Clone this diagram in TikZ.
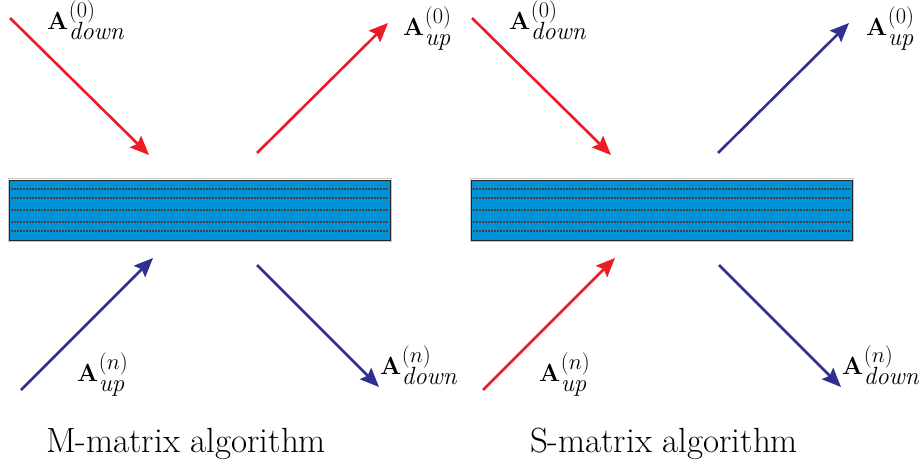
\documentclass[tikz,border=0pt]{standalone}
\usetikzlibrary{arrows.meta}
\usepackage{graphicx}
\definecolor{ared}{RGB}{237,28,36}
\definecolor{ablue}{RGB}{46,49,146}
\definecolor{slab}{RGB}{0,147,216}
\tikzset{
  arr/.style={line width=2.6pt,-{Stealth[length=19pt,width=16pt,inset=3pt]}},
  redarr/.style={arr,draw=ared},
  bluearr/.style={arr,draw=ablue},
  slabbox/.style={fill=slab,draw=black!85,line width=1.4pt},
  layer/.style={draw=black!75,line width=1.1pt,dash pattern=on 1.6pt off 1.4pt},
  lab/.style={inner sep=0pt,anchor=base west,font=\fontsize{24}{28}\selectfont},
  captext/.style={inner sep=0pt,anchor=base,font=\fontsize{35}{40}\selectfont}
}
\newcommand{\Alab}[2]{$\mathbf{A}$\kern0.5pt\rlap{\raisebox{12pt}{\scalebox{0.9}{$(#1)$}}}\raisebox{-10pt}{$\mathit{#2}$}}
\begin{document}
\begin{tikzpicture}[x=1pt,y=-1pt]
\useasboundingbox (0,0) rectangle (920,470);
\foreach \dx/\p in {0/L,462/R}{
  \begin{scope}[xshift=\dx pt]
    \draw[gray!45,line width=1pt] (8,178.5) rectangle (391,241.5);
    \node[slabbox,minimum width=381pt,minimum height=60pt,anchor=north west,inner sep=0pt] (slab\p) at (9,180) {};
    \foreach \yy in {189,198,210,222,231}
      \draw[layer] (11,\yy) -- (388,\yy);
  \end{scope}
}
% left panel coordinates
\coordinate (L1s) at (10,18);  \coordinate (L1e) at (149,155);
\coordinate (L2s) at (257,153); \coordinate (L2e) at (388,23);
\coordinate (L3s) at (21,390); \coordinate (L3e) at (153,258);
\coordinate (L4s) at (257,265); \coordinate (L4e) at (379,387);
% right panel
\coordinate (R1s) at (472,18);  \coordinate (R1e) at (611,155);
\coordinate (R2s) at (718,153); \coordinate (R2e) at (849,23);
\coordinate (R3s) at (483,390); \coordinate (R3e) at (615,258);
\coordinate (R4s) at (719,265); \coordinate (R4e) at (841,387);
\draw[redarr] (L1s) -- (L1e);
\draw[redarr] (L2s) -- (L2e);
\draw[bluearr] (L3s) -- (L3e);
\draw[bluearr] (L4s) -- (L4e);
\draw[redarr] (R1s) -- (R1e);
\draw[bluearr] (R2s) -- (R2e);
\draw[redarr] (R3s) -- (R3e);
\draw[bluearr] (R4s) -- (R4e);
% labels
\node[lab] (lA1) at (47,30) {\Alab{0}{down}};
\node[lab] (lA2) at (403,36) {\Alab{0}{up}};
\node[lab] (lA3) at (77,381) {\Alab{n}{up}};
\node[lab] (lA4) at (380,374) {\Alab{n}{down}};
\node[lab] (rA1) at (509,30) {\Alab{0}{down}};
\node[lab] (rA2) at (866,36) {\Alab{0}{up}};
\node[lab] (rA3) at (539,381) {\Alab{n}{up}};
\node[lab] (rA4) at (842,374) {\Alab{n}{down}};
\node[captext] (capL) at (186,452) {M-matrix algorithm};
\node[captext] (capR) at (664,452) {S-matrix algorithm};
\end{tikzpicture}
\end{document}
